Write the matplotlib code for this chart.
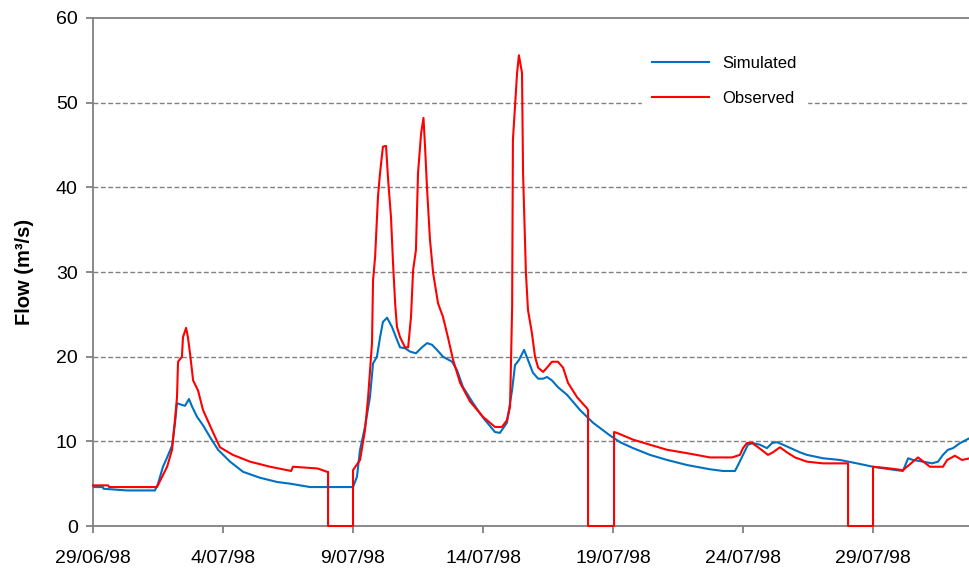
import matplotlib
matplotlib.use("Agg")
import matplotlib.pyplot as plt

plt.rcParams['font.family'] = ['Liberation Sans', 'DejaVu Sans']

# days since 29/06/98
sim_days = [0.00, 0.38, 0.40, 1.31, 2.38, 2.50, 2.69, 2.85, 3.04, 3.15, 3.23, 3.42, 3.54,
            3.69, 3.81, 4.00, 4.23, 4.50, 4.81, 5.27, 5.77, 6.42, 7.08, 7.58, 8.35, 10.00,
            10.15, 10.27, 10.46, 10.65, 10.77, 10.92, 11.04, 11.15, 11.31, 11.50, 11.69,
            11.81, 12.00, 12.19, 12.42, 12.65, 12.85, 13.04, 13.23, 13.46, 13.81, 14.00,
            14.23, 14.62, 15.00, 15.46, 15.65, 15.92, 16.12, 16.23, 16.38, 16.58, 16.73,
            16.92, 17.12, 17.31, 17.46, 17.65, 17.88, 18.23, 18.73, 19.23, 19.88, 20.27,
            20.77, 21.42, 22.08, 22.85, 23.73, 24.23, 24.69, 24.81, 25.00, 25.19, 25.38,
            25.65, 25.92, 26.12, 26.31, 26.54, 27.19, 27.46, 28.08, 28.73, 29.38, 30.00,
            30.65, 31.15, 31.35, 31.54, 31.92, 32.27, 32.50, 32.69, 32.88, 33.08, 33.35, 33.73]
sim_flow = [4.6, 4.6, 4.4, 4.2, 4.2, 5.0, 7.0, 8.1, 9.5, 12.1, 14.5, 14.3, 14.2,
            15.0, 14.1, 12.9, 11.9, 10.5, 9.0, 7.6, 6.4, 5.7, 5.2, 5.0, 4.6, 4.6,
            5.8, 9.0, 11.7, 15.2, 19.2, 20.0, 22.3, 24.1, 24.6, 23.5, 22.0,
            21.1, 21.0, 20.6, 20.4, 21.1, 21.6, 21.4, 20.8, 20.0, 19.4, 18.4,
            16.4, 14.5, 12.8, 11.1, 11.0, 12.2, 16.1, 19.0, 19.6, 20.8, 19.6,
            18.1, 17.4, 17.4, 17.6, 17.2, 16.4, 15.5, 13.7, 12.2, 10.7, 9.9,
            9.2, 8.4, 7.8, 7.2, 6.7, 6.5, 6.5, 7.2, 8.4, 9.6, 9.8,
            9.6, 9.2, 9.8, 9.9, 9.6, 8.7, 8.4, 8.0, 7.8, 7.4, 7.0,
            6.7, 6.5, 8.0, 7.8, 7.6, 7.4, 7.6, 8.4, 9.0, 9.2, 9.8, 10.4]

obs_days = [0.00, 0.58, 0.62, 2.46, 2.85, 3.04, 3.15, 3.23, 3.27, 3.42, 3.46, 3.58, 3.65,
            3.73, 3.85, 4.04, 4.23, 4.58, 4.88, 5.38, 6.04, 6.81, 7.46, 7.62, 7.69, 8.62,
            8.73, 9.00, 9.04, 9.04, 10.00, 10.00, 10.27, 10.46, 10.58, 10.73, 10.77, 10.85,
            10.96, 11.04, 11.15, 11.27, 11.35, 11.46, 11.54, 11.62, 11.69, 11.81, 12.00,
            12.12, 12.23, 12.31, 12.42, 12.50, 12.62, 12.71, 12.77, 12.85, 12.96, 13.08,
            13.27, 13.46, 13.65, 13.85, 14.12, 14.50, 15.00, 15.46, 15.73, 15.92, 16.04,
            16.12, 16.15, 16.31, 16.38, 16.50, 16.54, 16.65, 16.73, 16.88, 17.00, 17.12,
            17.31, 17.46, 17.65, 17.88, 18.08, 18.27, 18.62, 19.00, 19.04, 19.04, 20.04,
            20.04, 20.15, 20.77, 21.42, 22.08, 22.85, 23.73, 24.58, 24.88, 25.00, 25.15,
            25.35, 25.58, 25.96, 26.15, 26.42, 26.69, 27.00, 27.46, 28.08, 29.04, 29.04,
            30.00, 30.00, 30.65, 31.15, 31.73, 32.19, 32.69, 32.85, 33.15, 33.42, 33.73]
obs_flow = [4.8, 4.8, 4.6, 4.6, 7.0, 9.0, 12.5, 15.2, 19.4, 20.0, 22.3, 23.4, 22.3,
            20.4, 17.2, 16.0, 13.7, 11.3, 9.3, 8.4, 7.6, 7.0, 6.6, 6.5, 7.0, 6.8,
            6.7, 6.4, 6.4, 0.0, 0.0, 6.6, 7.8, 11.3, 15.2, 21.6, 29.0, 31.8,
            38.9, 41.7, 44.8, 44.9, 40.9, 36.5, 31.0, 26.3, 23.5, 22.3, 21.1,
            21.1, 24.7, 30.2, 32.6, 41.7, 46.4, 48.2, 44.8, 39.7, 33.8, 29.9,
            26.3, 24.7, 22.3, 19.6, 16.9, 14.7, 12.9, 11.7, 11.7, 12.5, 14.1,
            25.9, 45.6, 53.5, 55.6, 53.5, 41.7, 29.9, 25.5, 22.8, 20.0, 18.7,
            18.2, 18.7, 19.4, 19.4, 18.7, 16.9, 15.2, 13.9, 13.7, 0.0, 0.0,
            11.1, 11.0, 10.2, 9.6, 9.0, 8.6, 8.1, 8.1, 8.4, 9.2, 9.8,
            9.8, 9.3, 8.4, 8.7, 9.3, 8.7, 8.1, 7.6, 7.4, 7.4, 0.0,
            0.0, 7.0, 6.8, 6.6, 8.1, 7.0, 7.0, 7.8, 8.3, 7.8, 8.0]

tick_days = [0, 5, 10, 15, 20, 25, 30]
tick_labels = ['29/06/98', '4/07/98', '9/07/98', '14/07/98', '19/07/98', '24/07/98', '29/07/98']

fig = plt.figure(figsize=(9.7, 5.75), dpi=100)
ax = fig.add_axes([0.0959, 0.0852, 0.9041, 0.8835])

ax.plot(sim_days, sim_flow, color='#0070C0', lw=1.5, label='Simulated', zorder=3)
ax.plot(obs_days, obs_flow, color='#FF0000', lw=1.5, label='Observed', zorder=4,
        clip_on=False)

ax.set_xlim(0, 33.73)
ax.set_ylim(0, 60)
ax.set_yticks(range(0, 61, 10))
ax.set_xticks(tick_days)
ax.set_xticklabels(tick_labels)

for y in range(10, 60, 10):
    ax.axhline(y, color='#808080', lw=1, ls=(0, (3.5, 1.8)), zorder=0)

for s in ['left', 'bottom', 'top']:
    ax.spines[s].set_color('#808080')
    ax.spines[s].set_linewidth(1.3)
    ax.spines[s].set_zorder(2)
ax.spines['right'].set_visible(False)

ax.tick_params(axis='both', direction='out', length=5, width=1.3, color='#808080',
               labelsize=14, pad=6)
ax.tick_params(axis='x', pad=12)
ax.set_ylabel('Flow (m³/s)', fontsize=14.5, fontweight='bold', labelpad=16)

leg = ax.legend(loc='center', bbox_to_anchor=(0.72, 0.876), frameon=True,
                fontsize=12, handlelength=3.4, labelspacing=1.2, borderpad=0.6)
leg.get_frame().set_facecolor('white')
leg.get_frame().set_edgecolor('white')
leg.get_frame().set_alpha(1)

fig.savefig('out.png', dpi=100)
